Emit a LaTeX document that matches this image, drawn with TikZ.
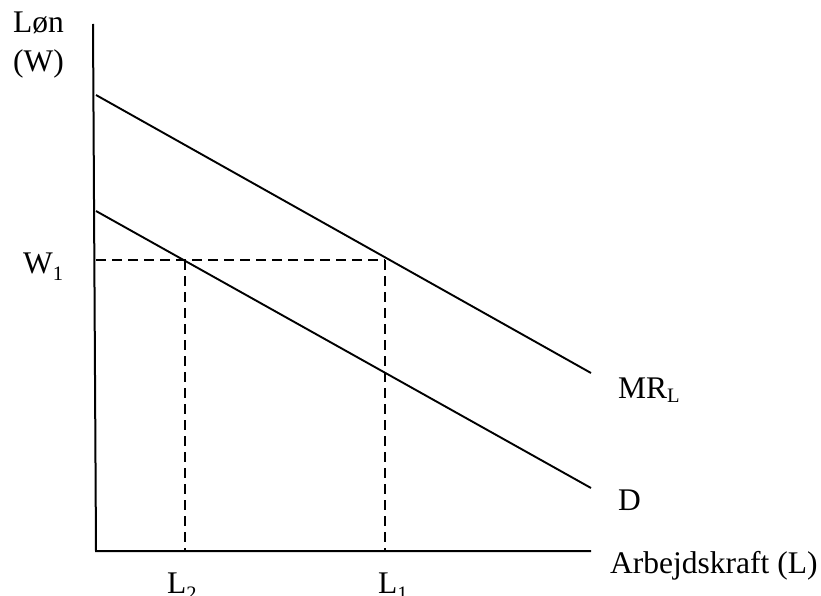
\documentclass[tikz,border=0pt]{standalone}
\usepackage{fontspec}
\setmainfont{Liberation Serif}
\newcommand\lowidx[2]{\raisebox{-#1pt}{\fontsize{20.5}{21}\selectfont #2}}
\begin{document}
\begin{tikzpicture}[x=1pt,y=-1pt,
  lbl/.style={anchor=base west,inner sep=0pt,font=\fontsize{31.5}{36}\selectfont},
  axisline/.style={line width=2pt},
  curve/.style={line width=1.9pt},
  guide/.style={line width=1.9pt,dash pattern=on 10pt off 6pt}]
\useasboundingbox (0,0) rectangle (821,596);
% axes
\coordinate (ytop) at (93,24);
\coordinate (O) at (96,551);
\coordinate (xend) at (591,551);
\draw[axisline] (ytop) -- (O) -- (xend);
% curves
\coordinate (mr0) at (96,95);
\coordinate (mr1) at (591,373);
\coordinate (d0) at (96,211);
\coordinate (d1) at (591,488);
\draw[curve] (mr0) -- (mr1);
\draw[curve] (d0) -- (d1);
% guides
\coordinate (w1) at (96,260);
\coordinate (pL1) at (385,260);
\coordinate (pL2) at (185,260);
\coordinate (bL1) at (385,551);
\coordinate (bL2) at (185,551);
\draw[guide] (w1) -- (pL1);
\draw[guide] (pL2) -- (bL2);
\draw[guide] (pL1) -- (bL1);
% labels
\node[lbl] (lon) at (13,33) {Løn};
\node[lbl] (wlab) at (13,72) {(W)};
\node[lbl] (w1lab) at (23,273) {W\lowidx{7}{1}};
\node[lbl] (mrlab) at (618,398) {MR\lowidx{4}{L}};
\node[lbl] (dlab) at (618,510) {D};
\node[lbl] (xlab) at (610,573) {Arbejdskraft (L)};
\node[lbl] (l2lab) at (167,593) {L\lowidx{7}{2}};
\node[lbl] (l1lab) at (378,593) {L\lowidx{7}{1}};
\end{tikzpicture}
\end{document}
